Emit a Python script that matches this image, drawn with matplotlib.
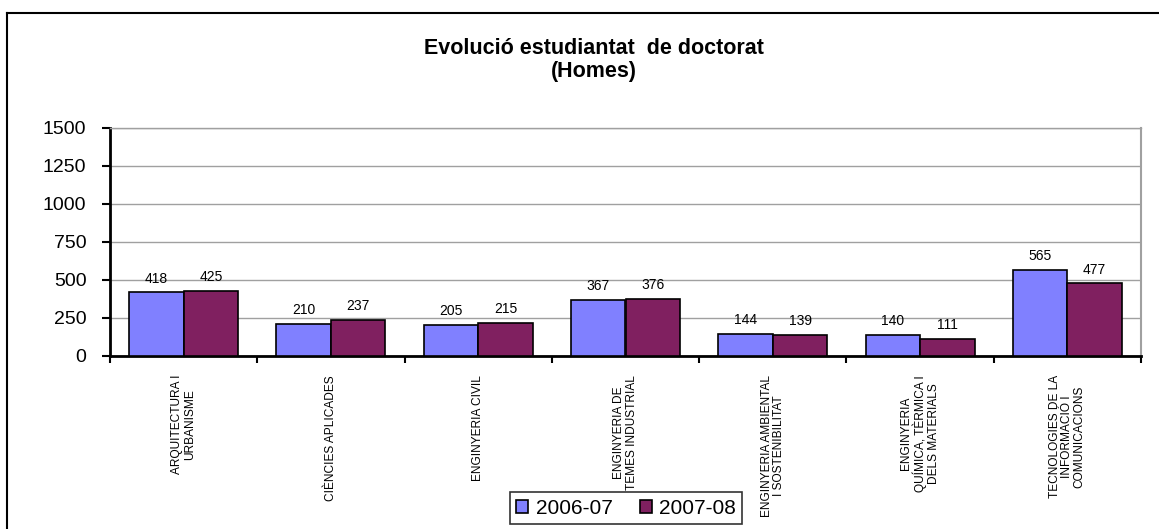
import numpy as np
import matplotlib.pyplot as plt
from matplotlib.lines import Line2D

plt.rcParams['font.family'] = ['Liberation Sans', 'DejaVu Sans']

# data
categories = ["ARQUITECTURA I\nURBANISME",
              "CIÈNCIES APLICADES",
              "ENGINYERIA CIVIL",
              "ENGINYERIA DE\nTEMES INDUSTRIAL",
              "ENGINYERIA AMBIENTAL\nI SOSTENIBILITAT",
              "ENGINYERIA\nQUÍMICA, TÈRMICA I\nDELS MATERIALS",
              "TECNOLOGIES DE LA\nINFORMACIÓ I\nCOMUNICACIONS"]
y2006 = [418, 210, 205, 367, 144, 140, 565]
y2007 = [425, 237, 215, 376, 139, 111, 477]
series_names = ["2006-07", "2007-08"]
yticks = [0, 250, 500, 750, 1000, 1250, 1500]

fig = plt.figure(figsize=(11.59, 5.29), dpi=100)
ax = fig.add_axes([110/1159, 1-356/529, (1141-110)/1159, (356-128)/529])

# outer chart border (left and top visible)
fig.add_artist(Line2D([7/1159, 7/1159], [0, 1-13/529], color='black', lw=1.5, transform=fig.transFigure))
fig.add_artist(Line2D([7/1159, 1.0], [1-13/529, 1-13/529], color='black', lw=1.5, transform=fig.transFigure))

x = np.arange(len(categories))
w = 0.37
b1 = ax.bar(x - w/2, y2006, w, color='#8080FF', edgecolor='black', lw=1.2, label=series_names[0], zorder=3)
b2 = ax.bar(x + w/2, y2007, w, color='#802060', edgecolor='black', lw=1.2, label=series_names[1], zorder=3)
for bars in (b1, b2):
    for bar in bars:
        ax.annotate(f"{int(bar.get_height())}", (bar.get_x() + bar.get_width()/2, bar.get_height()),
                    xytext=(0, 5), textcoords='offset points', ha='center', va='bottom', fontsize=10)

ax.set_xlim(-0.5, len(categories) - 0.5)
ax.set_ylim(0, 1500)
ax.set_yticks(yticks)
ax.set_yticklabels([str(t) for t in yticks], fontsize=14)
ax.yaxis.grid(True, color='#A0A0A0', lw=1, zorder=0)
ax.set_axisbelow(True)
ax.tick_params(axis='y', length=6, width=1.5, pad=11)

ax.set_xticks(np.arange(len(categories) + 1) - 0.5)
ax.set_xticklabels([])
ax.tick_params(axis='x', length=5, width=1.5)
for i, lab in enumerate(categories):
    ax.text(i, -125, lab, rotation=90, ha='center', va='top', fontsize=8.6,
            multialignment='center', linespacing=1.05)

ax.spines['left'].set_linewidth(2)
ax.spines['bottom'].set_linewidth(2)
ax.spines['top'].set_color('#A0A0A0')
ax.spines['right'].set_color('#A0A0A0')
ax.spines['top'].set_linewidth(1)
ax.spines['right'].set_linewidth(1.5)

fig.text(594/1159, 1-60/529, "Evolució estudiantat  de doctorat\n(Homes)", ha='center', va='center',
         fontsize=15.5, fontweight='bold', linespacing=1.12)

leg = fig.legend(loc='center', bbox_to_anchor=(626/1159, 1-508/529), ncol=2, fontsize=15,
                 frameon=True, fancybox=False, edgecolor='black', handlelength=0.6, handleheight=0.6,
                 handletextpad=0.35, columnspacing=1.3, borderpad=0.3, borderaxespad=0)
leg.get_frame().set_linewidth(1.2)

fig.savefig("out.png", dpi=100)
